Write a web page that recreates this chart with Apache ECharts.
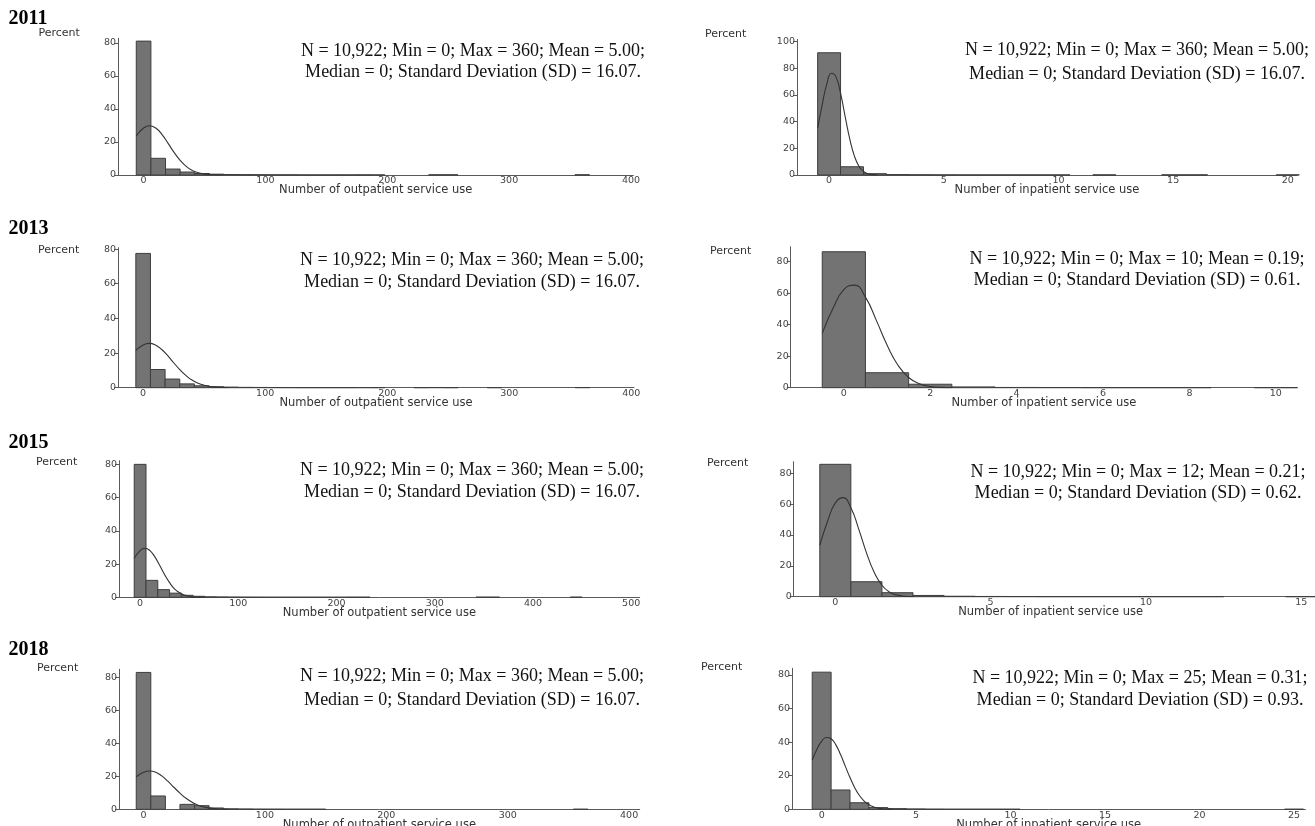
<!DOCTYPE html>
<html><head><meta charset="utf-8">
<script src="https://cdn.jsdelivr.net/npm/echarts@6/dist/echarts.min.js"></script>
<style>html,body{margin:0;padding:0;background:#fff}#c{width:1315px;height:826px}</style>
</head><body><div id="c"></div>
<script>
// ---------- DATA ----------
const years = ['2011', '2013', '2015', '2018'];
const outTitle = 'Number of outpatient service use';
const inTitle = 'Number of inpatient service use';
const yTitle = 'Percent';

// histogram bin centres
const outBinCenters = [0,12,24,36,48,60,72,84,96,108,120,132,144,156,168,180,192,204,216,228,240,252,264,276,288,300,312,324,336,348,360,372,384,396,408,420,432,444,456];
const inBinCenters = [0,1,2,3,4,5,6,7,8,9,10,11,12,13,14,15,16,17,18,19,20,21,22,23,24,25];
const outBinWidth = 12;
const inBinWidth = 1;

// percent per bin
const out2011 = [81.0,10.1,3.6,1.8,0.9,0.5,0.3,0.2,0.15,0.1,0.1,0.05,0.05,0.05,0.05,0.08,0.05,0,0,0,0.12,0.12,0,0,0,0,0,0,0,0,0.12];
const out2013 = [77.5,10.5,5.0,2.2,1.1,0.6,0.35,0.2,0.15,0.1,0.08,0.05,0.05,0.05,0.05,0.08,0.05,0,0,0.05,0.1,0.05,0,0,0.05,0,0,0,0,0,0.1];
const out2015 = [80.0,10.2,4.6,2.5,1.2,0.6,0.3,0.2,0.15,0.1,0.08,0.05,0.05,0.05,0.05,0.05,0.05,0.05,0.1,0.1,0,0,0,0,0,0,0,0,0,0.12,0.12,0,0,0,0,0,0,0.12,0];
const out2018 = [83.2,8.1,0,3.0,2.2,0.8,0.3,0.2,0.1,0.08,0.05,0.05,0.05,0,0,0,0,0,0,0,0,0,0,0,0,0,0,0,0,0,0.05];
const in2011 = [91.7,6.2,1.0,0.3,0.15,0.1,0.05,0.05,0.05,0.05,0.05,0,0.1,0,0,0.1,0.1,0,0,0,0.1];
const in2013 = [86.3,9.5,2.2,0.5,0.15,0.1,0.05,0.05,0.05,0,0.05];
const in2015 = [85.8,9.7,2.6,0.8,0.3,0.15,0.1,0.05,0.05,0.05,0.05,0.05,0.05,0,0,0.05];
const in2018 = [81.7,11.5,3.9,1.0,0.4,0.2,0.1,0.05,0.05,0.05,0.05,0,0,0,0,0,0,0,0,0,0,0,0,0,0,0.05];

// normal-density overlay curves [x, percent]
const curveOut2011 = [[-6,23.6],[0,28.4],[5,29.8],[10,28.4],[15,24.6],[20,19.3],[25,13.7],[30,8.9],[35,5.2],[40,2.8],[45,1.3],[50,0.6],[55,0.2],[60,0.1],[65,0]];
const curveIn2011 = [[-0.5,35.1],[-0.3,52.8],[-0.1,68.3],[0.1,76.3],[0.3,73.6],[0.5,61.2],[0.7,43.8],[0.9,27.1],[1.1,14.4],[1.3,6.6],[1.5,2.6],[1.7,0.9],[1.9,0.3],[2.1,0.05]];
const curveOut2013 = [[-6,21.5],[0,24.7],[5,25.6],[10,24.7],[15,22.2],[20,18.6],[25,14.4],[30,10.5],[35,7.1],[40,4.4],[45,2.6],[50,1.4],[55,0.7],[60,0.3],[65,0.1],[70,0]];
const curveIn2013 = [[-0.5,34.5],[-0.25,50.4],[0,62.3],[0.25,65.1],[0.5,57.5],[0.75,42.9],[1,27.1],[1.25,14.4],[1.5,6.5],[1.75,2.5],[2,0.8],[2.25,0.2],[2.5,0.05]];
const curveOut2015 = [[-6,23.4],[0,28.1],[5,29.5],[10,28.1],[15,24.3],[20,19.1],[25,13.6],[30,8.8],[35,5.1],[40,2.8],[45,1.3],[50,0.6],[55,0.2],[60,0.1],[65,0]];
const curveIn2015 = [[-0.5,33.4],[-0.25,48.9],[0,60.8],[0.25,64.2],[0.5,57.7],[0.75,44.0],[1,28.6],[1.25,15.8],[1.5,7.4],[1.75,2.9],[2,1.0],[2.25,0.3],[2.5,0.05]];
const curveOut2018 = [[-6,19.7],[0,22.5],[5,23.3],[10,22.5],[15,20.3],[20,17.1],[25,13.4],[30,9.8],[35,6.7],[40,4.3],[45,2.5],[50,1.4],[55,0.7],[60,0.35],[65,0.15],[70,0]];
const curveIn2018 = [[-0.5,29.4],[-0.25,35.8],[0,40.6],[0.25,42.8],[0.5,42.0],[0.75,38.4],[1,32.6],[1.25,25.7],[1.5,18.9],[1.75,12.9],[2,8.2],[2.25,4.9],[2.5,2.7],[2.75,1.4],[3,0.65],[3.25,0.27],[3.5,0.1],[3.75,0]];

// tick labels
const xTicksOut400 = [0,100,200,300,400];
const xTicksOut500 = [0,100,200,300,400,500];
const xTicksIn20 = [0,5,10,15,20];
const xTicksIn10 = [0,2,4,6,8,10];
const xTicksIn15 = [0,5,10,15];
const xTicksIn25 = [0,5,10,15,20,25];
const yTicks80 = [0,20,40,60,80];
const yTicks100 = [0,20,40,60,80,100];

// annotation texts
const statsOut = ['N = 10,922; Min = 0; Max = 360; Mean = 5.00;', 'Median = 0; Standard Deviation (SD) = 16.07.'];
const statsIn2013 = ['N = 10,922; Min = 0; Max = 10; Mean = 0.19;', 'Median = 0; Standard Deviation (SD) = 0.61.'];
const statsIn2015 = ['N = 10,922; Min = 0; Max = 12; Mean = 0.21;', 'Median = 0; Standard Deviation (SD) = 0.62.'];
const statsIn2018 = ['N = 10,922; Min = 0; Max = 25; Mean = 0.31;', 'Median = 0; Standard Deviation (SD) = 0.93.'];

// ---------- LAYOUT (positions / ranges) ----------
const panels = [
  {grid:[118,38.3,515.4,136.7], xr:[-21,402], ymax:82.7, xt:xTicksOut400, yt:yTicks80, centers:outBinCenters, vals:out2011, bw:outBinWidth, curve:curveOut2011, title:outTitle, stats:statsOut, tx:473, ty:[51.3,72.5], pct:[38.5,33]},
  {grid:[797,39.3,500,135.7], xr:[-1.4,20.4], ymax:101.8, xt:xTicksIn20, yt:yTicks100, centers:inBinCenters, vals:in2011, bw:inBinWidth, curve:curveIn2011, title:inTitle, stats:statsOut, tx:1137, ty:[50.3,74], pct:[705,34]},
  {grid:[118,247.7,516,140], xr:[-20.6,402.2], ymax:80.8, xt:xTicksOut400, yt:yTicks80, centers:outBinCenters, vals:out2013, bw:outBinWidth, curve:curveOut2013, title:outTitle, stats:statsOut, tx:472, ty:[260.3,282.3], pct:[38,250.5]},
  {grid:[790.7,246.7,506.3,141], xr:[-1.23,10.49], ymax:89.5, xt:xTicksIn10, yt:yTicks80, centers:inBinCenters, vals:in2013, bw:inBinWidth, curve:curveIn2013, title:inTitle, stats:statsIn2013, tx:1137, ty:[259.3,280], pct:[710,251]},
  {grid:[119,460.7,520.7,136.6], xr:[-21.5,508.7], ymax:82.2, xt:xTicksOut500, yt:yTicks80, centers:outBinCenters, vals:out2015, bw:outBinWidth, curve:curveOut2015, title:outTitle, stats:statsOut, tx:472, ty:[470.3,492.3], pct:[36,462]},
  {grid:[793.7,461.7,513.8,135], xr:[-1.34,15.2], ymax:87.5, xt:xTicksIn15, yt:yTicks80, centers:inBinCenters, vals:in2015, bw:inBinWidth, curve:curveIn2015, title:inTitle, stats:statsIn2015, tx:1138, ty:[472.7,493], pct:[707,463]},
  {grid:[119,669.3,520.7,140], xr:[-20.2,408.7], ymax:85.1, xt:xTicksOut400, yt:yTicks80, centers:outBinCenters, vals:out2018, bw:outBinWidth, curve:curveOut2018, title:outTitle, stats:statsOut, tx:472, ty:[676,700], pct:[37,668]},
  {grid:[792,668.3,513.4,141], xr:[-1.57,25.6], ymax:84, xt:xTicksIn25, yt:yTicks80, centers:inBinCenters, vals:in2018, bw:inBinWidth, curve:curveIn2018, title:inTitle, stats:statsIn2018, tx:1140, ty:[678.7,700], pct:[701,667]}
];
const yearPos = [18.5, 229, 442.5, 649.5];

// ---------- BUILD ----------
const AX = '#5a5a5a';
const LBL = '#444';
const SANS = 'DejaVu Sans';
const SERIF = 'Liberation Serif';

function histItem(bw) {
  return function (params, api) {
    const c = api.value(0), v = api.value(1);
    if (!(v > 0)) return null;
    const p0 = api.coord([c - bw / 2, v]);
    const p1 = api.coord([c + bw / 2, 0]);
    return {
      type: 'rect',
      shape: {x: p0[0], y: p0[1], width: p1[0] - p0[0], height: p1[1] - p0[1]},
      style: {fill: '#737373', stroke: '#3e3e3e', lineWidth: 1}
    };
  };
}

function txt(x, y, text, font, fill, align) {
  return {type: 'text', x: x, y: y, silent: true,
    style: {text: text, font: font, fill: fill, align: align, verticalAlign: 'middle', textAlign: align, textVerticalAlign: 'middle'}};
}

const grids = [], xAxes = [], yAxes = [], series = [], graphics = [];
panels.forEach((p, i) => {
  grids.push({left: p.grid[0], top: p.grid[1], width: p.grid[2], height: p.grid[3], outerBoundsMode: 'none', containLabel: false});
  xAxes.push({
    gridIndex: i, type: 'value', min: p.xr[0], max: p.xr[1],
    axisLine: {show: true, onZero: false, lineStyle: {color: AX, width: 1}},
    axisTick: {show: false},
    splitLine: {show: false},
    axisLabel: {customValues: p.xt, margin: 1, fontFamily: SANS, fontSize: 9.5, color: LBL},
    name: p.title, nameLocation: 'middle', nameGap: 9.5, nameMoveOverlap: false,
    nameTextStyle: {fontFamily: SANS, fontSize: 11.5, color: '#333'}
  });
  yAxes.push({
    gridIndex: i, type: 'value', min: 0, max: p.ymax,
    axisLine: {show: true, onZero: false, lineStyle: {color: AX, width: 1}},
    axisTick: {show: true, length: 4, customValues: p.yt, lineStyle: {color: AX, width: 1}},
    splitLine: {show: false},
    axisLabel: {customValues: p.yt, margin: 2, fontFamily: SANS, fontSize: 9.5, color: LBL}
  });
  const barData = p.vals.map((v, k) => [p.centers[k], v]);
  series.push({
    type: 'custom', coordinateSystem: 'cartesian2d', xAxisIndex: i, yAxisIndex: i,
    renderItem: histItem(p.bw), encode: {x: 0, y: 1}, data: barData, silent: true, z: 2
  });
  series.push({
    type: 'line', xAxisIndex: i, yAxisIndex: i, data: p.curve, showSymbol: false, symbol: 'none',
    smooth: 0.5, lineStyle: {color: '#333', width: 1.1}, silent: true, z: 3
  });
  p.stats.forEach((t, k) => {
    graphics.push(txt(p.tx, p.ty[k], t, '18px "' + SERIF + '"', '#111', 'center'));
  });
  graphics.push(txt(p.pct[0], p.pct[1], yTitle, '11px "' + SANS + '"', '#333', 'left'));
});
years.forEach((y, i) => {
  graphics.push(txt(8.5, yearPos[i], y, 'bold 20px "' + SERIF + '"', '#000', 'left'));
});

const chart = echarts.init(document.getElementById('c'), null, {renderer: 'canvas'});
chart.setOption({
  animation: false,
  backgroundColor: '#ffffff',
  grid: grids, xAxis: xAxes, yAxis: yAxes, series: series, graphic: graphics
});
</script>
</body></html>
